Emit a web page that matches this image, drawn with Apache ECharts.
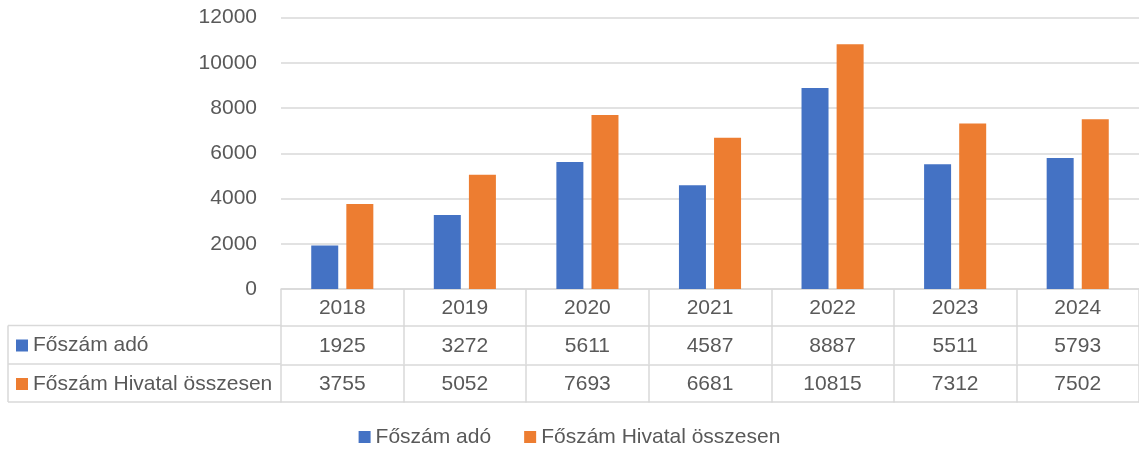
<!DOCTYPE html>
<html>
<head>
<meta charset="utf-8">
<script src="https://cdn.jsdelivr.net/npm/echarts@6/dist/echarts.min.js"></script>
<style>
  html, body { margin: 0; padding: 0; background: #fff; }
  #chart { width: 1139px; height: 451px; }
</style>
</head>
<body>
<div id="chart"></div>
<script>
const years = ['2018', '2019', '2020', '2021', '2022', '2023', '2024']
const adoName = 'Főszám adó'
const hivatalName = 'Főszám Hivatal összesen'
const adoValues = [1925, 3272, 5611, 4587, 8887, 5511, 5793]
const hivatalValues = [3755, 5052, 7693, 6681, 10815, 7312, 7502]

const blue = '#4472C4'
const orange = '#ED7D31'
const textColor = '#595959'
const lineColor = '#D9D9D9'
const font = '"Liberation Sans", Arial, sans-serif'

const chart = echarts.init(document.getElementById('chart'))

// one table row under the plot, built as an extra x axis
const tableRow = (offset, values, showTicks) => ({
  type: 'category',
  gridIndex: 0,
  position: 'bottom',
  offset: offset,
  data: years,
  axisLine: { show: true, lineStyle: { color: lineColor, width: 1.5 } },
  axisTick: { show: showTicks, length: 38, lineStyle: { color: lineColor, width: 1.5 } },
  axisLabel: {
    show: !!values,
    margin: 9,
    color: textColor,
    fontSize: 21,
    lineHeight: 22,
    fontFamily: font,
    formatter: (v, i) => values ? String(values[i]) : ''
  }
})

const legendText = { color: textColor, fontSize: 21, lineHeight: 22, fontFamily: font }

const option = {
  animation: false,
  grid: { left: 281, top: 17.5, width: 863, height: 271.5, containLabel: false },
  legend: [
    {
      data: [adoName],
      left: 16, top: 334.5, padding: 0,
      icon: 'rect', itemWidth: 12, itemHeight: 12,
      textStyle: legendText
    },
    {
      data: [hivatalName],
      left: 16, top: 373, padding: 0,
      icon: 'rect', itemWidth: 12, itemHeight: 12,
      textStyle: legendText
    },
    {
      data: [adoName, hivatalName],
      left: 'center', top: 426, padding: 0,
      icon: 'rect', itemWidth: 12, itemHeight: 12, itemGap: 33,
      textStyle: legendText
    }
  ],
  xAxis: [
    {
      type: 'category',
      data: years,
      axisLine: { show: true, lineStyle: { color: lineColor, width: 1.5 } },
      axisTick: { show: true, length: 37, lineStyle: { color: lineColor, width: 1.5 } },
      axisLabel: { margin: 8, color: textColor, fontSize: 21, lineHeight: 22, fontFamily: font }
    },
    tableRow(37, adoValues, true),
    tableRow(75.5, hivatalValues, true),
    tableRow(113, null, false)
  ],
  yAxis: {
    type: 'value',
    min: 0,
    max: 12000,
    interval: 2000,
    axisLine: { show: false },
    axisTick: { show: false },
    axisLabel: {
      margin: 24, color: textColor, fontSize: 21, fontFamily: font,
      formatter: v => String(v)
    },
    splitLine: { lineStyle: { color: lineColor, width: 1.5 } }
  },
  graphic: [
    // left column of the data table (series name cells)
    { type: 'line', shape: { x1: 8, y1: 325.5, x2: 281, y2: 325.5 }, style: { stroke: lineColor, lineWidth: 1.5 } },
    { type: 'line', shape: { x1: 8, y1: 364, x2: 281, y2: 364 }, style: { stroke: lineColor, lineWidth: 1.5 } },
    { type: 'line', shape: { x1: 8, y1: 402, x2: 281, y2: 402 }, style: { stroke: lineColor, lineWidth: 1.5 } },
    { type: 'line', shape: { x1: 8, y1: 325.5, x2: 8, y2: 402 }, style: { stroke: lineColor, lineWidth: 1.5 } }
  ],
  series: [
    {
      name: adoName,
      type: 'bar',
      barWidth: 27,
      barGap: '30%',
      itemStyle: { color: blue },
      data: adoValues
    },
    {
      name: hivatalName,
      type: 'bar',
      barWidth: 27,
      itemStyle: { color: orange },
      data: hivatalValues
    }
  ]
}

chart.setOption(option)
</script>
</body>
</html>
